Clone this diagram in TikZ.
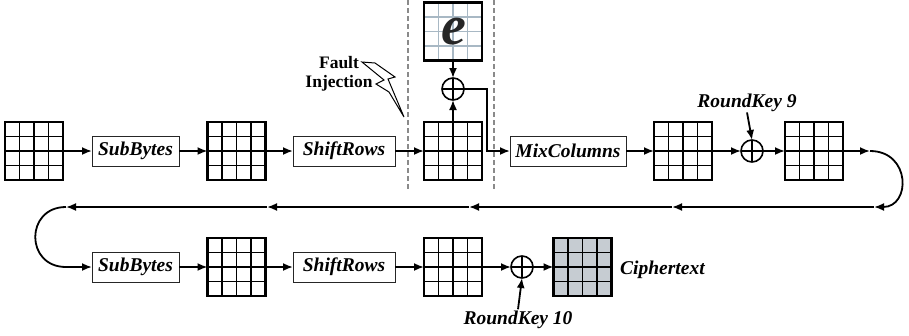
\documentclass[tikz,border=0pt]{standalone}
\usepackage{fontspec}
\setmainfont{Liberation Serif}
\usetikzlibrary{arrows.meta,calc}
\definecolor{cipherfill}{HTML}{C6CCD2}
\definecolor{errgrid}{HTML}{A8B8C4}
\definecolor{guide}{HTML}{8A8A8A}
\newcommand\lblfont{\fontsize{19.5}{22}\selectfont\bfseries\itshape}
\newcommand\notefont{\fontsize{17.5}{19}\selectfont\bfseries}
\begin{document}
\begin{tikzpicture}[x=1pt,y=-1pt,
  >={Latex[length=10pt,width=8pt]},
  flow/.style={->,line width=1.8pt},
  statebox/.style={draw,line width=2.2pt,minimum size=58pt,inner sep=0pt,outer sep=0pt,
    path picture={
      \foreach \f in {0.25,0.5,0.75}{
        \draw[line width=1.6pt,draw=#1]
          ($(path picture bounding box.north west)!\f!(path picture bounding box.north east)$) --
          ($(path picture bounding box.south west)!\f!(path picture bounding box.south east)$);
        \draw[line width=1.6pt,draw=#1]
          ($(path picture bounding box.north west)!\f!(path picture bounding box.south west)$) --
          ($(path picture bounding box.north east)!\f!(path picture bounding box.south east)$);
      }}},
  statebox/.default=black,
  xorop/.style={circle,draw,line width=1.6pt,minimum size=22pt,inner sep=0pt,outer sep=0pt,
    path picture={
      \draw[line width=1.2pt]
        (path picture bounding box.north) -- (path picture bounding box.south)
        (path picture bounding box.west) -- (path picture bounding box.east);}},
  stage/.style={draw=black!85,line width=1pt,minimum width=#1,minimum height=30pt,
    inner sep=0pt,outer sep=0pt,font=\lblfont},
  lbl/.style={font=\lblfont,inner sep=1pt},
  guideline/.style={draw=guide,line width=1.5pt,dash pattern=on 5pt off 3pt}]

\useasboundingbox (0,0) rectangle (909,335);

% fault window
\draw[guideline] (408,0) -- (408,190);
\draw[guideline] (494,0) -- (494,190);

% round 9
\node[statebox] (g1) at (34,151) {};
\node[stage=87pt] (sb1) at (135.5,151) {SubBytes};
\node[statebox] (g2) at (236.5,151) {};
\node[stage=102pt] (sr1) at (344,151) {ShiftRows};
\node[statebox] (g3) at (453,151) {};
\node[statebox=errgrid] (ge) at (453,31.5) {};
\node[font=\fontsize{56}{56}\selectfont\bfseries\itshape,text=black!85,inner sep=0pt] (eval) at (454,32) {e};
\node[xorop] (xa) at (453,89) {};
\node[stage=116pt] (mc) at (568,151) {MixColumns};
\node[statebox] (g4) at (683,151) {};
\node[xorop] (xb) at (752,151) {};
\node[statebox] (g5) at (814,151) {};
\node[lbl,anchor=base] (rk9) at (747,107) {RoundKey 9};

% fault injection
\node[font=\notefont,align=center,inner sep=0pt] (fi) at (339,73.5) {Fault\\Injection};
\draw[line width=1pt,fill=white,line join=miter]
  (362,62) -- (375,63) -- (395,77) -- (388,79) -- (404,117) -- (389,92)
  -- (376,84) -- (384,80) -- cycle;

\draw[flow] (g1.east) -- (sb1.west);
\draw[flow] (sb1.east) -- (g2.west);
\draw[flow] (g2.east) -- (sr1.west);
\draw[flow] (sr1.east) -- (g3.west);
\draw[flow] (g3.north) -- (xa.south);
\draw[flow] (ge.south) -- (xa.north);
\coordinate (bend) at (487,89);
\draw[flow] (xa.east) -- (bend) |- (mc.west);
\draw[flow] (mc.east) -- (g4.west);
\draw[flow] (g4.east) -- (xb.west);
\draw[flow] (rk9.south) -- (xb.north);
\draw[flow] (xb.east) -- (g5.west);

% return path to the last round
\coordinate (turnR) at (870,151);
\coordinate (r1) at (874,207);
\coordinate (r2) at (672,207);
\coordinate (r3) at (469,207);
\coordinate (r4) at (267,207);
\coordinate (r5) at (66,207);
\coordinate (l1) at (66,267);
\draw[flow] (g5.east) -- (turnR);
\draw[flow] (turnR) .. controls (911,151) and (911,207) .. (r1);
\draw[flow] (r1) -- (r2);
\draw[flow] (r2) -- (r3);
\draw[flow] (r3) -- (r4);
\draw[flow] (r4) -- (r5);

% round 10
\node[stage=87pt] (sb2) at (135.5,267) {SubBytes};
\node[statebox] (g6) at (236.5,267) {};
\node[stage=102pt] (sr2) at (344,267) {ShiftRows};
\node[statebox] (g7) at (453,267) {};
\node[xorop] (xc) at (522,267) {};
\node[statebox,fill=cipherfill] (g8) at (582.5,267) {};
\node[lbl,anchor=base west] (ct) at (619,274) {Ciphertext};
\node[lbl,anchor=base] (rk10) at (518,324) {RoundKey 10};

\draw[flow] (r5) .. controls (25,207) and (25,267) .. (l1) -- (sb2.west);
\draw[flow] (sb2.east) -- (g6.west);
\draw[flow] (g6.east) -- (sr2.west);
\draw[flow] (sr2.east) -- (g7.west);
\draw[flow] (g7.east) -- (xc.west);
\draw[flow] (rk10.north) -- (xc.south);
\draw[flow] (xc.east) -- (g8.west);
\end{tikzpicture}
\end{document}
